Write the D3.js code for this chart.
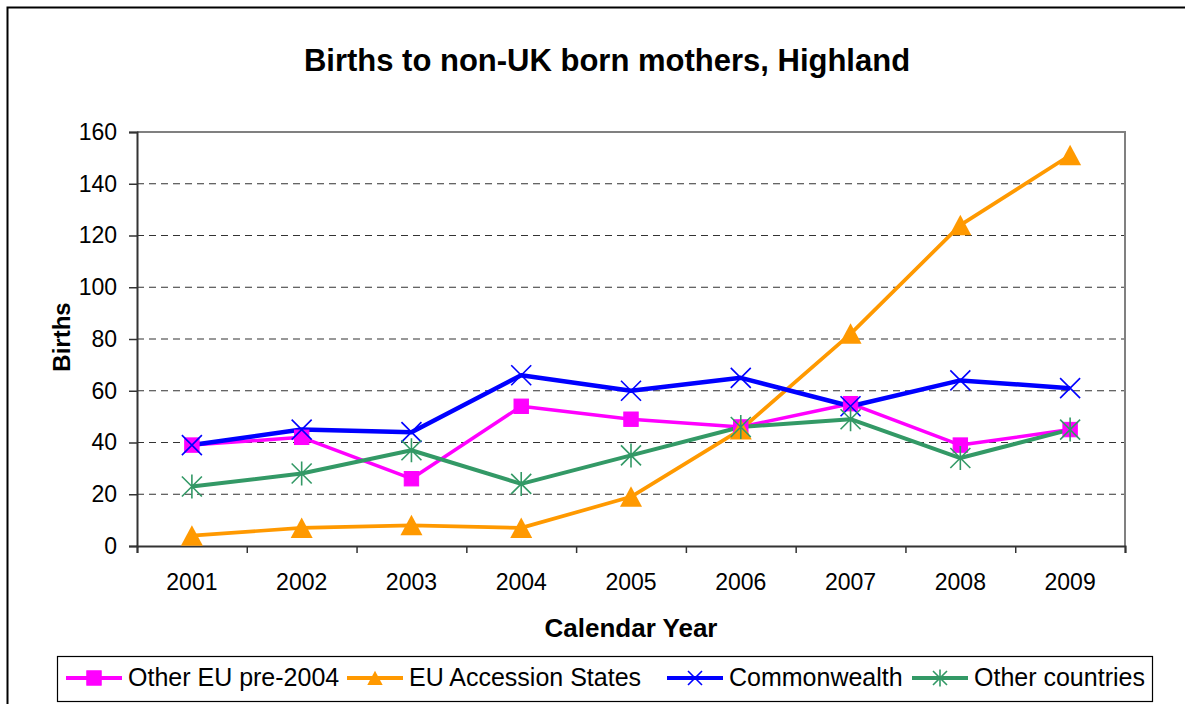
<!DOCTYPE html>
<html>
<head>
<meta charset="utf-8">
<script src="https://cdn.jsdelivr.net/npm/d3@7"></script>
<style>
  html, body { margin: 0; padding: 0; background: #fff; }
  svg { display: block; font-family: "Liberation Sans", Arial, sans-serif; }
</style>
</head>
<body>
<svg id="chart" width="1185" height="704"></svg>
<script>
const years = ["2001","2002","2003","2004","2005","2006","2007","2008","2009"];
const otherEU = [39, 42, 26, 54, 49, 46, 55, 39, 45];
const euAccession = [4, 7, 8, 7, 19, 45, 82, 124, 151];
const commonwealth = [39, 45, 44, 66, 60, 65, 54, 64, 61];
const otherCountries = [23, 28, 37, 24, 35, 46, 49, 34, 45];
const yTicks = [0, 20, 40, 60, 80, 100, 120, 140, 160];
const seriesNames = ["Other EU pre-2004", "EU Accession States", "Commonwealth", "Other countries"];
const seriesColors = ["#FF00FF", "#FF9900", "#0000FF", "#339966"];
const seriesMarkers = ["square", "triangle", "x", "star"];
const seriesWidths = [3.5, 3.7, 4.5, 4];

const series = [otherEU, euAccession, commonwealth, otherCountries].map((vals, i) => ({
  name: seriesNames[i], color: seriesColors[i], marker: seriesMarkers[i], width: seriesWidths[i],
  values: vals.map((v, j) => ({ year: years[j], value: v }))
}));

const svg = d3.select("#chart");
const plot = { left: 137, right: 1125, top: 132, bottom: 546 };

// outer chart border (clipped at right/bottom)
svg.append("path")
  .attr("d", `M7.5,720 L7.5,7.5 L1200,7.5`)
  .attr("fill", "none").attr("stroke", "#000").attr("stroke-width", 2);

const x = d3.scaleBand().domain(years).range([plot.left, plot.right]).padding(0);
const xBound = d3.scaleLinear().domain([0, years.length]).range([plot.left, plot.right]);
const y = d3.scaleLinear().domain([0, 160]).range([plot.bottom, plot.top]);

// gridlines
svg.append("g").selectAll("line").data(yTicks.filter(t => t > 0 && t < 160)).join("line")
  .attr("x1", plot.left).attr("x2", plot.right)
  .attr("y1", d => y(d)).attr("y2", d => y(d))
  .attr("stroke", "#333").attr("stroke-width", 1.2).attr("stroke-dasharray", "7,5");

// plot border top/right
svg.append("path")
  .attr("d", `M${plot.left},${y(160)} L${plot.right},${y(160)} L${plot.right},${plot.bottom}`)
  .attr("fill", "none").attr("stroke", "#808080").attr("stroke-width", 2);

// y axis
const yAxis = svg.append("g").attr("transform", `translate(${plot.left},0)`)
  .call(d3.axisLeft(y).tickValues(yTicks).tickSize(8).tickPadding(12).tickFormat(d3.format("d")));
yAxis.select(".domain").attr("stroke", "#333").attr("stroke-width", 2);
yAxis.selectAll(".tick line").attr("stroke", "#333").attr("stroke-width", 1.5);
yAxis.selectAll(".tick text").attr("font-size", 23).attr("fill", "#000")
  .attr("font-family", "Liberation Sans, Arial, sans-serif");

// x axis: ticks at boundaries
const xAxisTicks = svg.append("g").attr("transform", `translate(0,${plot.bottom})`)
  .call(d3.axisBottom(xBound).tickValues(d3.range(0, years.length + 1)).tickSize(7).tickFormat(""));
xAxisTicks.select(".domain").attr("stroke", "#333").attr("stroke-width", 2);
xAxisTicks.selectAll(".tick line").attr("stroke", "#333").attr("stroke-width", 1.5);

const xAxisLabels = svg.append("g").attr("transform", `translate(0,${plot.bottom})`)
  .call(d3.axisBottom(x).tickSize(0).tickPadding(28));
xAxisLabels.select(".domain").remove();
xAxisLabels.selectAll(".tick text").attr("font-size", 23).attr("fill", "#000")
  .attr("font-family", "Liberation Sans, Arial, sans-serif");

// titles
svg.append("text").attr("x", 607).attr("y", 71).attr("text-anchor", "middle")
  .attr("font-size", 31).attr("font-weight", "bold").text("Births to non-UK born mothers, Highland");
svg.append("text").attr("x", (plot.left + plot.right) / 2).attr("y", 637).attr("text-anchor", "middle")
  .attr("font-size", 26).attr("font-weight", "bold").text("Calendar Year");
svg.append("text").attr("transform", `translate(70,337) rotate(-90)`).attr("text-anchor", "middle")
  .attr("font-size", 24).attr("font-weight", "bold").text("Births");

// marker drawing
function drawMarker(g, type, color, s) {
  if (type === "square") {
    const h = s * 0.72;
    g.append("rect").attr("x", -h).attr("y", -h).attr("width", 2 * h).attr("height", 2 * h)
      .attr("fill", color).attr("stroke", color).attr("stroke-width", 1);
  } else if (type === "triangle") {
    g.append("path").attr("d", `M0,${-s * 1.05} L${s * 1.1},${s} L${-s * 1.1},${s} Z`).attr("fill", color);
  } else if (type === "x") {
    g.append("path").attr("d", `M${-s},${-s} L${s},${s} M${-s},${s} L${s},${-s}`)
      .attr("stroke", color).attr("stroke-width", 1.6).attr("fill", "none");
  } else if (type === "star") {
    g.append("path").attr("d", `M${-s},${-s} L${s},${s} M${-s},${s} L${s},${-s} M0,${-s * 1.2} L0,${s * 1.2}`)
      .attr("stroke", color).attr("stroke-width", 1.6).attr("fill", "none");
  }
}

const line = d3.line().x(d => x(d.year) + x.bandwidth() / 2).y(d => y(d.value));

// lines
series.forEach(s => {
  svg.append("path").datum(s.values).attr("d", line)
    .attr("fill", "none").attr("stroke", s.color).attr("stroke-width", s.width)
    .attr("stroke-linejoin", "round");
});
// markers
series.forEach(s => {
  s.values.forEach(d => {
    const g = svg.append("g").attr("transform", `translate(${x(d.year) + x.bandwidth() / 2},${y(d.value)})`);
    drawMarker(g, s.marker, s.color, 10);
  });
});

// legend
const legendStarts = [66, 347, 667, 912];
const legend = svg.append("g");
legend.append("rect").attr("x", 57.5).attr("y", 656.5).attr("width", 1095).attr("height", 45)
  .attr("fill", "#fff").attr("stroke", "#000").attr("stroke-width", 1.2);
series.forEach((s, i) => {
  const cx = legendStarts[i];
  const g = legend.append("g");
  g.append("line").attr("x1", cx).attr("x2", cx + 56).attr("y1", 678).attr("y2", 678)
    .attr("stroke", s.color).attr("stroke-width", 4);
  const mg = g.append("g").attr("transform", `translate(${cx + 28},678)`);
  drawMarker(mg, s.marker, s.color, s.marker === "square" ? 10 : 7);
  g.append("text").attr("x", cx + 62).attr("y", 686).attr("font-size", 25).text(s.name);
});
</script>
</body>
</html>
